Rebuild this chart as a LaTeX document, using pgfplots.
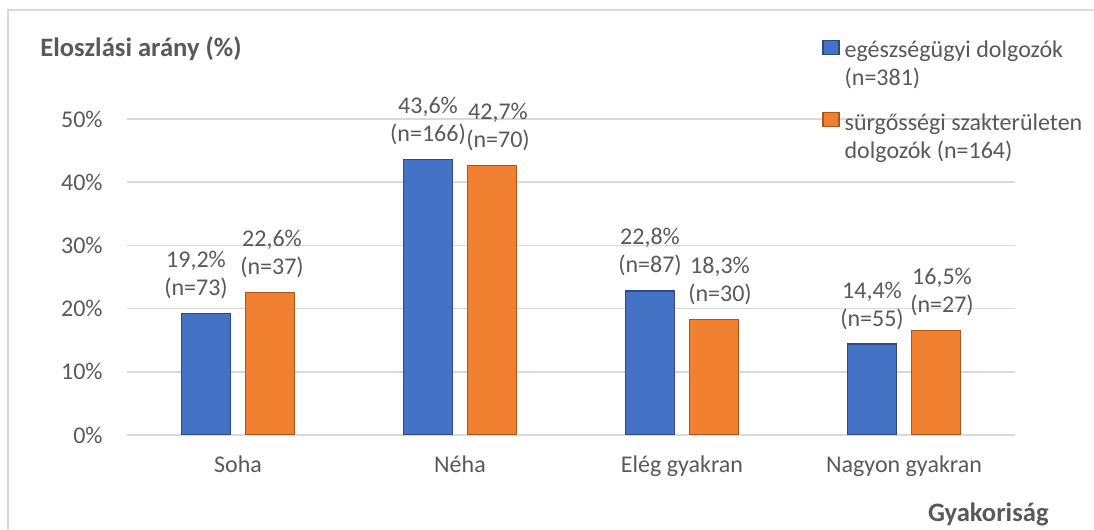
\documentclass[border=0pt]{standalone}
\usepackage{fontspec}
\setmainfont{Carlito}
\usepackage{pgfplots}
\pgfplotsset{compat=1.18}
\definecolor{txt}{HTML}{595959}
\definecolor{gridc}{HTML}{D9D9D9}
\definecolor{bl}{HTML}{4472C4}
\definecolor{blD}{HTML}{2B4A86}
\definecolor{orc}{HTML}{F07F30}
\definecolor{orD}{HTML}{A8561C}
\begin{document}
\begin{tikzpicture}[x=1pt,y=1pt]
\useasboundingbox (0,0) rectangle (547,265);
\draw[gridc, line width=0.6pt] (4,-10) rectangle (560,260);
\begin{axis}[
  at={(63.5pt,47.5pt)}, anchor=south west,
  scale only axis,
  width=444pt, height=158pt,
  xmin=-0.5, xmax=3.5,
  ymin=0, ymax=50,
  ybar, bar width=24.5pt,
  xtick={0,1,2,3},
  xticklabels={Soha, Néha, Elég gyakran, Nagyon gyakran},
  ytick={0,10,20,30,40,50},
  yticklabel={\pgfmathprintnumber[assume math mode=true]{\tick}\%},
  major tick length=0pt,
  axis line style={draw=none},
  ymajorgrids,
  grid style={gridc, line width=0.75pt},
  tick label style={font=\fontsize{12}{14}\selectfont, text=txt},
  yticklabel style={inner sep=0pt, xshift=-12pt},
  xticklabel style={inner sep=0pt, anchor=base, yshift=-19pt},
  point meta=explicit symbolic,
  nodes near coords,
  nodes near coords style={font=\fontsize{12}{14}\selectfont, text=txt,
    align=center, inner sep=0pt, anchor=south, yshift=7pt},
  legend style={at={(axis description cs:0.7827,1.258)}, anchor=north west,
    draw=none, fill=none, inner sep=0pt, row sep=25pt,
    column sep=2.5pt, font=\fontsize{12}{14}\selectfont, text=txt,
    nodes={inner sep=0pt}},
  legend cell align=left,
  legend image code/.code={\fill[#1] (0pt,-2.5pt) rectangle (8pt,4.5pt);},
]
% egészségügyi dolgozók
\addplot[bar shift=-16pt, fill=bl, draw=blD, line width=0.6pt]
  coordinates {(0,19.2) [19,2\%\hspace*{10pt}\\(n=73)\hspace*{10pt}] (1,43.6) [43,6\%\\(n=166)] (2,22.8) [22,8\%\\(n=87)] (3,14.4) [14,4\%\\(n=55)]};
\addlegendentry{\begin{tabular}[t]{@{}l@{}}egészségügyi dolgozók\\(n=381)\end{tabular}}
% sürgősségi szakterületen dolgozók
\addplot[bar shift=16pt, fill=orc, draw=orD, line width=0.6pt,
  nodes near coords style={xshift=3pt}]
  coordinates {(0,22.6) [22,6\%\hspace*{4pt}\\(n=37)\hspace*{4pt}] (1,42.7) [42,7\%\\(n=70)] (2,18.3) [18,3\%\\(n=30)] (3,16.5) [16,5\%\\(n=27)]};
\addlegendentry{\begin{tabular}[t]{@{}l@{}}sürgősségi szakterületen\\dolgozók (n=164)\end{tabular}}
\end{axis}
\node[anchor=base west, inner sep=0pt, text=txt, font=\fontsize{13.3}{16}\selectfont\bfseries] at (20,236.5) {Eloszlási arány (\%)};
\node[anchor=base east, inner sep=0pt, text=txt, font=\fontsize{13.3}{16}\selectfont\bfseries] at (524.5,4) {Gyakoriság};
\end{tikzpicture}
\end{document}
